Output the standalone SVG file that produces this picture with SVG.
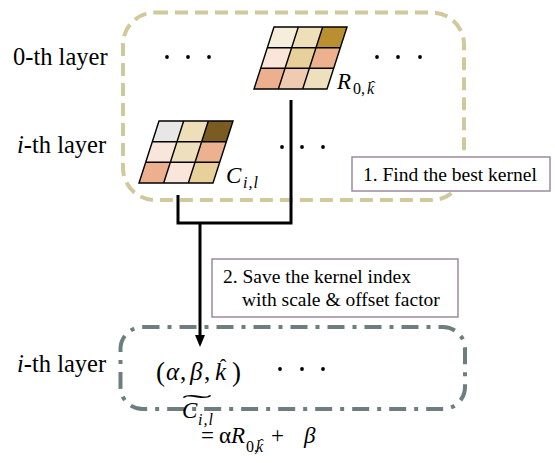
<svg xmlns="http://www.w3.org/2000/svg" width="555" height="463" viewBox="0 0 555 463">
  <style>
    text { font-family: "Liberation Serif", Tinos, "Times New Roman", Times, "DejaVu Serif", serif; fill: #000; }
    .lbl { font-size: 24.5px; }
    .note { font-size: 19.5px; }
    .mi { font-style: italic; }
    .mn { font-style: normal; }
    .group-top { fill: none; stroke: #D0C99C; stroke-width: 4; stroke-dasharray: 13 7; }
    .group-bot { fill: none; stroke: #6E7E7E; stroke-width: 4; stroke-dasharray: 17 8 4 8; }
    .notebox { fill: #fff; stroke: #9E8AA0; stroke-width: 1.5; }
    .cellgrid { fill: none; stroke: #000; stroke-width: 1.5; }
    .wire { fill: none; stroke: #000; stroke-width: 3; }
    .dot { fill: #000; }
  </style>

  <!-- layer groupings -->
  <rect id="layer-group-top" class="group-top" x="123" y="12.5" width="341" height="187.5" rx="32" ry="32"/>
  <rect id="layer-group-bottom" class="group-bot" x="120.5" y="327" width="344.5" height="82" rx="22" ry="22"/>

  <!-- row labels -->
  <g id="row-labels">
    <text class="lbl" x="13" y="65">0-th layer</text>
    <text class="lbl" x="17" y="153"><tspan font-style="italic">i</tspan>-th layer</text>
    <text class="lbl" x="17" y="372"><tspan font-style="italic">i</tspan>-th layer</text>
  </g>

  <!-- ellipses -->
  <g id="ellipses">
    <circle class="dot" cx="167" cy="57" r="1.9"/>
    <circle class="dot" cx="188" cy="57" r="1.9"/>
    <circle class="dot" cx="209" cy="57" r="1.9"/>
    <circle class="dot" cx="377" cy="57" r="1.9"/>
    <circle class="dot" cx="398" cy="57" r="1.9"/>
    <circle class="dot" cx="420" cy="57" r="1.9"/>
    <circle class="dot" cx="282" cy="147" r="1.9"/>
    <circle class="dot" cx="302" cy="147" r="1.9"/>
    <circle class="dot" cx="323" cy="147" r="1.9"/>
    <circle class="dot" cx="280" cy="369" r="1.9"/>
    <circle class="dot" cx="302" cy="369" r="1.9"/>
    <circle class="dot" cx="323" cy="369" r="1.9"/>
  </g>

  <!-- connectors -->
  <g id="connectors">
    <path class="wire" d="M178,195 V223 H291 V100"/>
    <path class="wire" d="M200,223 V337"/>
    <polygon points="195,335 205,335 200,347" fill="#000"/>
  </g>

  <!-- reference kernel R_{0,k} -->
  <g id="kernel-r">
    <g transform="translate(274,27) skewX(-17.87)">
      <rect x="0" y="0" width="24.33" height="20.67" fill="#F6EEDB"/>
      <rect x="24.33" y="0" width="24.33" height="20.67" fill="#EFDFB9"/>
      <rect x="48.67" y="0" width="24.33" height="20.67" fill="#B98F31"/>
      <rect x="0" y="20.67" width="24.33" height="20.67" fill="#F9E5D9"/>
      <rect x="24.33" y="20.67" width="24.33" height="20.67" fill="#E8D09B"/>
      <rect x="48.67" y="20.67" width="24.33" height="20.67" fill="#ECB18F"/>
      <rect x="0" y="41.33" width="24.33" height="20.67" fill="#ECB08E"/>
      <rect x="24.33" y="41.33" width="24.33" height="20.67" fill="#F1CBB1"/>
      <rect x="48.67" y="41.33" width="24.33" height="20.67" fill="#EFE0BD"/>
      <path class="cellgrid" d="M0,0 H73 V62 H0 Z M24.33,0 V62 M48.67,0 V62 M0,20.67 H73 M0,41.33 H73"/>
    </g>
    <text x="337" y="89"><tspan class="mi" font-size="23">R</tspan><tspan x="353" y="94" font-size="16">0,</tspan><tspan x="367" class="mi" font-size="16">k</tspan><tspan x="373" y="91" text-anchor="middle" font-size="15">ˆ</tspan></text>
  </g>

  <!-- current kernel C_{i,l} -->
  <g id="kernel-c">
    <g transform="translate(159,121) skewX(-17.87)">
      <rect x="0" y="0" width="24.67" height="20.67" fill="#E8E7E7"/>
      <rect x="24.67" y="0" width="24.67" height="20.67" fill="#EFDFB9"/>
      <rect x="49.33" y="0" width="24.67" height="20.67" fill="#7A5B21"/>
      <rect x="0" y="20.67" width="24.67" height="20.67" fill="#F9E5D9"/>
      <rect x="24.67" y="20.67" width="24.67" height="20.67" fill="#EFE0BD"/>
      <rect x="49.33" y="20.67" width="24.67" height="20.67" fill="#ECB18F"/>
      <rect x="0" y="41.33" width="24.67" height="20.67" fill="#ECB08E"/>
      <rect x="24.67" y="41.33" width="24.67" height="20.67" fill="#F9E5D9"/>
      <rect x="49.33" y="41.33" width="24.67" height="20.67" fill="#E8D09B"/>
      <path class="cellgrid" d="M0,0 H74 V62 H0 Z M24.67,0 V62 M49.33,0 V62 M0,20.67 H74 M0,41.33 H74"/>
    </g>
    <text class="mi" x="226" y="183"><tspan font-size="23">C</tspan><tspan x="243" y="188" font-size="16" letter-spacing="1">i,l</tspan></text>
  </g>

  <!-- step notes -->
  <g id="note-find">
    <rect class="notebox" x="352" y="157" width="198" height="34"/>
    <text class="note" x="363" y="181">1. Find the best kernel</text>
  </g>
  <g id="note-save">
    <rect class="notebox" x="212" y="259" width="246" height="58"/>
    <text class="note" x="223" y="283">2. Save the kernel index</text>
    <text class="note" x="242" y="306">with scale &amp; offset factor</text>
  </g>

  <!-- stored parameters (alpha, beta, k-hat) -->
  <g id="params">
    <text y="380"><tspan x="156" y="381" font-size="27">(</tspan><tspan x="166" y="380" class="mi" font-size="25">α</tspan><tspan x="180" font-size="25">,</tspan><tspan x="190" class="mi" font-size="25">β</tspan><tspan x="204" font-size="25">,</tspan><tspan x="215" class="mi" font-size="25">k</tspan><tspan x="223" y="374" text-anchor="middle" font-size="20">ˆ</tspan><tspan x="232" y="381" font-size="27">)</tspan></text>
  </g>

  <!-- reconstruction formula -->
  <g id="formula">
    <text x="182" y="412" font-size="26" textLength="30" lengthAdjust="spacingAndGlyphs">˜</text>
    <text class="mi" x="182" y="418"><tspan font-size="23">C</tspan><tspan x="198" y="425" font-size="16" letter-spacing="1">i,l</tspan></text>
    <text x="201" y="443" font-size="23"><tspan>=</tspan><tspan x="219">α</tspan><tspan x="231" class="mi">R</tspan><tspan x="246" y="452" font-size="16">0,</tspan><tspan x="256" class="mi" font-size="16">k</tspan><tspan x="261.5" y="449" text-anchor="middle" font-size="14">ˆ</tspan><tspan x="271" y="443">+</tspan><tspan x="304" class="mi">β</tspan></text>
  </g>
</svg>
